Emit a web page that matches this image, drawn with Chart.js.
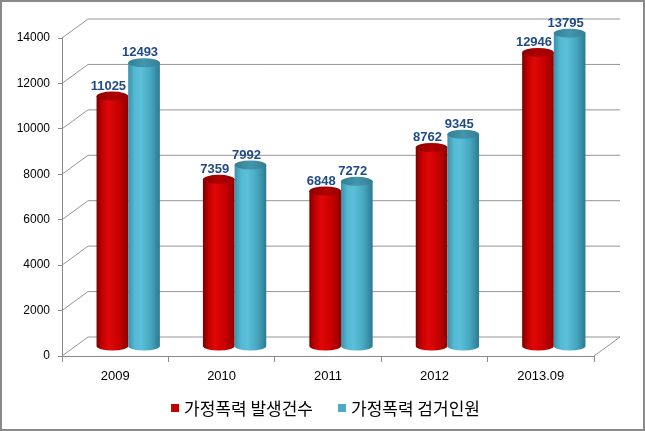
<!DOCTYPE html>
<html><head><meta charset="utf-8">
<script src="https://cdn.jsdelivr.net/npm/chart.js@4.4.0/dist/chart.umd.min.js"></script>
<style>html,body{margin:0;padding:0;background:#fff}#wrap{width:645px;height:431px}</style>
</head><body><div id="wrap"><canvas id="c" width="645" height="431"></canvas></div>
<script>
const categories = ['2009', '2010', '2011', '2012', '2013.09'];
const seriesNames = ['가정폭력 발생건수', '가정폭력 검거인원'];
const incidents = [11025, 7359, 6848, 8762, 12946];
const arrests = [12493, 7992, 7272, 9345, 13795];
const yMin = 0, yMax = 14000, yStep = 2000;

const DX = 26, DY = -19;      // depth of the 3D box
const BDX = 13, BDY = -9.5;   // bars sit at mid-depth
const RED_STOPS = [[0,'#7a0000'],[0.18,'#c40000'],[0.38,'#e00808'],[0.7,'#c80000'],[1,'#900000']];
const RED_CAP = [[0,'#8c0000'],[0.5,'#b00000'],[1,'#9a0000']];
const CYAN_STOPS = [[0,'#3a91a9'],[0.2,'#55b8d2'],[0.4,'#5cc0da'],[0.72,'#46a6bf'],[1,'#2c7a8f']];
const CYAN_CAP = [[0,'#347f94'],[0.5,'#4296ad'],[1,'#357f94']];

function grad(ctx, x0, x1, stops) {
  const g = ctx.createLinearGradient(x0, 0, x1, 0);
  stops.forEach(s => g.addColorStop(s[0], s[1]));
  return g;
}
function cylinder(ctx, xl, xr, yt, yb, body, cap) {
  const rx = (xr - xl) / 2, cx = (xl + xr) / 2, ry = 4.5;
  ctx.beginPath();
  ctx.moveTo(xl, yt);
  ctx.lineTo(xl, yb);
  ctx.ellipse(cx, yb, rx, ry, 0, Math.PI, 0, true);
  ctx.lineTo(xr, yt);
  ctx.closePath();
  ctx.fillStyle = grad(ctx, xl, xr, body);
  ctx.fill();
  ctx.beginPath();
  ctx.ellipse(cx, yt, rx, ry, 0, 0, Math.PI * 2);
  ctx.fillStyle = grad(ctx, xl, xr, cap);
  ctx.fill();
}

const threeD = {
  id: 'threeD',
  beforeDraw(chart) {
    const ctx = chart.ctx;
    ctx.save();
    ctx.fillStyle = '#ffffff';
    ctx.fillRect(0, 0, chart.width, chart.height);
    ctx.restore();
  },
  beforeDatasetsDraw(chart) {
    const ctx = chart.ctx, ys = chart.scales.y, a = chart.chartArea;
    ctx.save();
    ctx.strokeStyle = '#959595';
    ctx.lineWidth = 1;
    for (let v = yMin; v <= yMax; v += yStep) {
      const yf = ys.getPixelForValue(v);
      ctx.beginPath();
      ctx.moveTo(a.left, yf);
      ctx.lineTo(a.left + DX, yf + DY);
      ctx.lineTo(a.right + DX, yf + DY);
      ctx.stroke();
    }
    const yb = ys.getPixelForValue(yMin);
    ctx.beginPath();
    ctx.moveTo(a.right, yb);
    ctx.lineTo(a.right + DX, yb + DY);
    ctx.stroke();
    ctx.restore();
  },
  beforeDatasetDraw() { return false; },
  afterDatasetsDraw(chart) {
    const ctx = chart.ctx;
    ctx.save();
    ctx.translate(BDX, BDY);
    const n = chart.data.labels.length;
    for (let i = 0; i < n; i++) {
      chart.data.datasets.forEach((ds, di) => {
        const el = chart.getDatasetMeta(di).data[i];
        const xl = el.x - el.width / 2, xr = el.x + el.width / 2;
        cylinder(ctx, xl, xr, el.y, el.base, di === 0 ? RED_STOPS : CYAN_STOPS, di === 0 ? RED_CAP : CYAN_CAP);
      });
    }
    ctx.font = 'bold 13px "Liberation Sans", Arial, sans-serif';
    ctx.fillStyle = '#1f4a87';
    ctx.textAlign = 'center';
    ctx.textBaseline = 'middle';
    chart.data.datasets.forEach((ds, di) => {
      chart.getDatasetMeta(di).data.forEach((el, i) => {
        ctx.fillText(String(ds.data[i]), el.x - 4, el.y - 10);
      });
    });
    ctx.restore();
  },
  afterDraw(chart) {
    const ctx = chart.ctx;
    ctx.save();
    // legend
    ctx.font = '17px "Noto Sans CJK KR", sans-serif';
    ctx.textBaseline = 'middle';
    ctx.textAlign = 'left';
    const box = 8, gapText = 5, gapItem = 25, cy = 409;
    const items = chart.data.datasets.map(ds => ({ text: ds.label, color: ds.backgroundColor, w: ctx.measureText(ds.label).width }));
    let total = 0;
    items.forEach((it, i) => { total += box + gapText + it.w + (i < items.length - 1 ? gapItem : 0); });
    let x = 325.5 - total / 2;
    items.forEach(it => {
      ctx.fillStyle = it.color;
      ctx.fillRect(x, cy - box / 2 - 1, box, box);
      ctx.fillStyle = '#000';
      ctx.fillText(it.text, x + box + gapText, cy);
      x += box + gapText + it.w + gapItem;
    });
    // outer border
    ctx.strokeStyle = '#8a8a8a';
    ctx.lineWidth = 2;
    ctx.strokeRect(1, 1, chart.width - 2, chart.height - 2);
    ctx.restore();
  }
};

new Chart(document.getElementById('c'), {
  type: 'bar',
  data: {
    labels: categories,
    datasets: [
      { label: seriesNames[0], data: incidents, backgroundColor: '#c00000', borderWidth: 0 },
      { label: seriesNames[1], data: arrests, backgroundColor: '#4bacc6', borderWidth: 0 }
    ]
  },
  options: {
    responsive: false,
    animation: false,
    devicePixelRatio: 1,
    datasets: { bar: { barPercentage: 1, categoryPercentage: 0.595 } },
    layout: { padding: { top: 38, right: 0, left: 0, bottom: 47 } },
    plugins: {
      legend: { display: false },
      tooltip: { enabled: false }
    },
    scales: {
      x: {
        grid: { display: true, drawOnChartArea: false, drawTicks: true, tickLength: 6, color: '#8a8a8a', offset: true },
        border: { display: true, color: '#8a8a8a' },
        ticks: { font: { family: '"Liberation Sans", Arial, sans-serif', size: 13 }, color: '#000', padding: 7 },
        afterFit(s) { s.height = 28; }
      },
      y: {
        min: yMin, max: yMax,
        grid: { drawOnChartArea: false, drawTicks: true, tickLength: 4, color: '#8a8a8a' },
        border: { display: true, color: '#8a8a8a' },
        ticks: { stepSize: yStep, font: { family: '"Liberation Sans", Arial, sans-serif', size: 12 }, color: '#000', padding: 8,
                 callback: v => String(v) },
        afterFit(s) { s.width = 62; }
      },
      y2: {
        position: 'right', display: true,
        grid: { display: false }, border: { display: false }, ticks: { display: false },
        afterFit(s) { s.width = 51; }
      }
    }
  },
  plugins: [threeD]
});
</script>
</body></html>
